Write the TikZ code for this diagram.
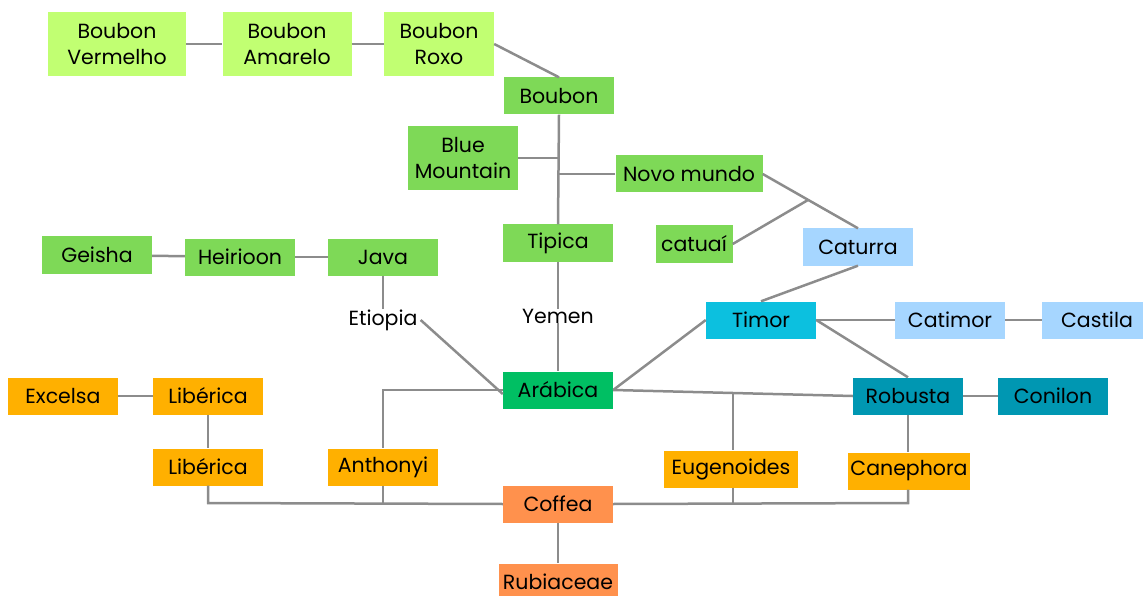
\documentclass[tikz,border=0pt]{standalone}
\usepackage{fontspec}
\setmainfont{Poppins}
\definecolor{lime}{HTML}{C1FF72}
\definecolor{grn}{HTML}{7ED957}
\definecolor{arab}{HTML}{00BF63}
\definecolor{lblue}{HTML}{A6D6FF}
\definecolor{timorc}{HTML}{0CC0DF}
\definecolor{robc}{HTML}{0097B2}
\definecolor{ambr}{HTML}{FFB000}
\definecolor{orng}{HTML}{FF914D}
\definecolor{linec}{HTML}{8C8C8C}
\tikzset{
  box/.style={minimum width=110pt, minimum height=37pt, inner sep=0pt, align=center,
    font=\fontsize{20.5}{26.5}\selectfont},
  tall/.style={minimum height=64pt},
  plain/.style={inner sep=0pt, font=\fontsize{20.5}{26.5}\selectfont},
  conn/.style={draw=linec, line width=2.5pt},
}
\begin{document}
\begin{tikzpicture}[x=1pt,y=-1pt]
\useasboundingbox (0,0) rectangle (1143,596);
\clip (0,0) rectangle (1143,596);
% nodes
\node[box,tall,fill=lime,minimum width=138pt] (bverm) at (117,44) {Boubon\\Vermelho};
\node[box,tall,fill=lime,minimum width=129pt] (bamar) at (287,44) {Boubon\\Amarelo};
\node[box,tall,fill=lime] (broxo) at (439,44) {Boubon\\Roxo};
\node[box,fill=grn] (boubon) at (559,96) {Boubon};
\node[box,tall,fill=grn] (blue) at (463,158) {Blue\\Mountain};
\node[box,fill=grn,minimum width=147pt] (novo) at (689,174) {Novo mundo};
\node[box,fill=grn] (tipica) at (558,243) {Tipica};
\node[box,fill=grn,minimum width=77pt] (catuai) at (694,244) {catuaí};
\node[box,fill=lblue] (caturra) at (858,247) {Caturra};
\node[box,fill=grn] (geisha) at (97,255) {Geisha};
\node[box,fill=grn] (heir) at (240,257) {Heirioon};
\node[box,fill=grn] (java) at (383,257) {Java};
\node[plain] (etiopia) at (383,320) {Etiopia};
\node[plain] (yemen) at (558,316) {Yemen};
\node[box,fill=timorc] (timor) at (761,320) {Timor};
\node[box,fill=lblue] (catimor) at (950,320) {Catimor};
\node[box,fill=lblue] (castila) at (1097,320) {Castila};
\node[box,fill=arab] (arabica) at (558,390) {Arábica};
\node[box,fill=robc] (robusta) at (908,396) {Robusta};
\node[box,fill=robc] (conilon) at (1053,396) {Conilon};
\node[box,fill=ambr] (excelsa) at (63,396) {Excelsa};
\node[box,fill=ambr] (liber1) at (208,396) {Libérica};
\node[box,fill=ambr] (liber2) at (208,467) {Libérica};
\node[box,fill=ambr] (anth) at (383,467) {Anthonyi};
\node[box,fill=ambr,minimum width=134pt] (eugen) at (731,469) {Eugenoides};
\node[box,fill=ambr,minimum width=122pt] (caneph) at (909,471) {Canephora};
\node[box,fill=orng] (coffea) at (558,504) {Coffea};
\node[box,fill=orng,minimum width=119pt] (rubi) at (558,582) {Rubiaceae};
% helper coordinates
\coordinate (nc) at (808,200);
\coordinate (eu) at (733,392.5);
\coordinate (ar1) at (383,390);
\coordinate (lb) at (208,503);
\coordinate (an) at (383,503);
\coordinate (eb) at (733,503);
\coordinate (cb) at (908,503);
% connectors
\begin{scope}[conn]
\draw (bverm) -- (bamar);
\draw (bamar) -- (broxo);
\draw (broxo.east) -- (boubon.north);
\draw (boubon.south) -- (tipica.north);
\draw (blue.east) -- (blue.east -| boubon.south);
\draw (novo.west) -- (novo.west -| boubon.south);
\draw (novo.east) -- (caturra.north);
\draw (catuai.east) -- (nc);
\draw (caturra.south) -- (timor.north);
\draw (geisha) -- (heir);
\draw (heir) -- (java);
\draw (java.south) -- (etiopia.north);
\draw (tipica.south) -- (yemen.north);
\draw (yemen.south) -- (arabica.north);
\draw ([xshift=3pt]etiopia.east) -- ([yshift=-4pt]arabica.west);
\draw (arabica.west) -- (ar1) -- (anth.north);
\draw (arabica.east) -- (timor.west);
\draw (arabica.east) -- (robusta.west);
\draw (eu) -- (eu |- eugen.north);
\draw (timor.east) -- (catimor.west);
\draw (catimor) -- (castila);
\draw (timor.east) -- (robusta.north);
\draw (robusta) -- (conilon);
\draw (robusta.south) -- (robusta.south |- caneph.north);
\draw (excelsa) -- (liber1);
\draw (liber1) -- (liber2);
\draw (liber2.south) -- (lb) -- (coffea.west);
\draw (anth.south) -- (an);
\draw (coffea.east) -- (cb) -- (cb |- caneph.south);
\draw (eb |- eugen.south) -- (eb);
\draw (coffea.south) -- (rubi.north);
\end{scope}
\end{tikzpicture}
\end{document}
